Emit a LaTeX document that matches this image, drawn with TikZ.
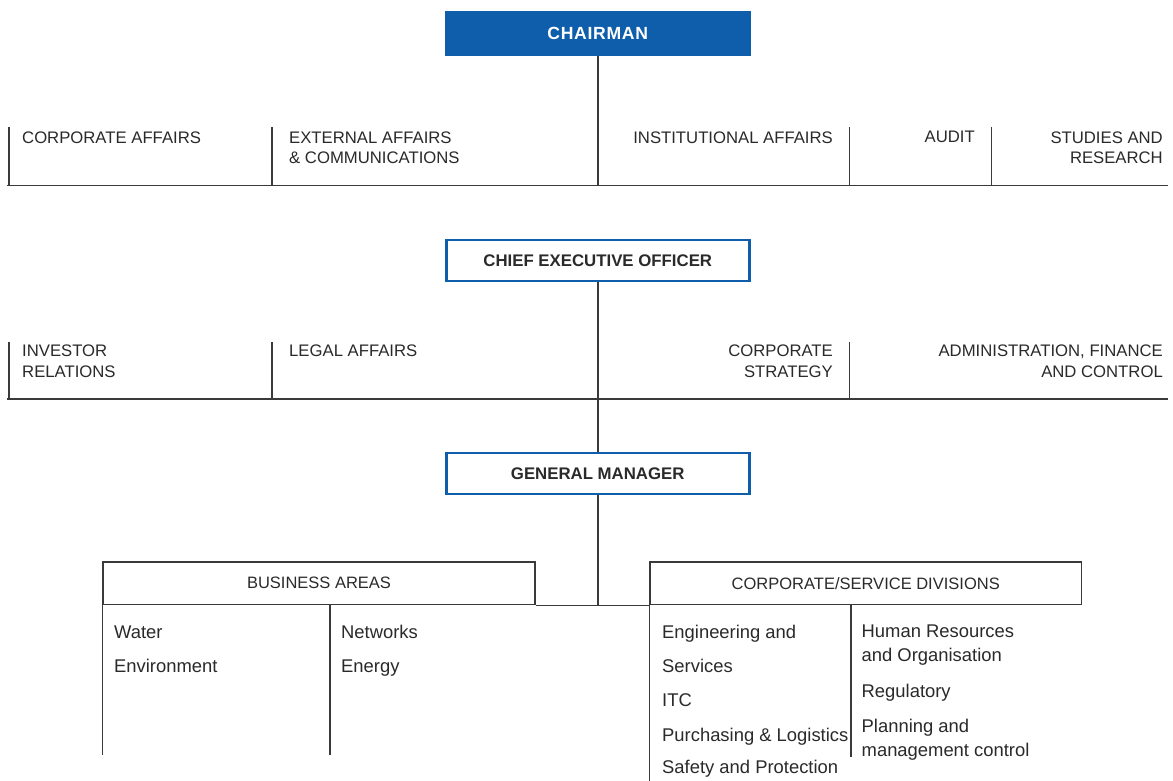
\documentclass[tikz,border=0pt]{standalone}
\usepackage{fontspec}
\setmainfont{Liberation Sans}
\definecolor{orgblue}{HTML}{0F5EAC}
\definecolor{inkgray}{HTML}{2A2A2A}
\definecolor{rulegray}{HTML}{3A3A3A}
\tikzset{
  rule/.style={draw=rulegray, line width=1.2pt},
  headbox/.style={minimum width=305.5pt, minimum height=45pt, inner sep=0pt,
    font=\fontsize{16.8}{20}\selectfont\bfseries},
  chairbox/.style={headbox, fill=orgblue, text=white,
    font=\fontsize{17.6}{20}\selectfont\bfseries\addfontfeature{LetterSpace=4}},
  execbox/.style={headbox, draw=orgblue, line width=2.6pt, fill=white, text=inkgray,
    minimum width=303pt, minimum height=41pt},
  groupbox/.style={rule, fill=white, inner sep=0pt, minimum height=42.5pt, text=inkgray,
    font=\fontsize{16.5}{20.5}\selectfont},
  unitL/.style={anchor=north west, inner sep=0pt, align=left, text=inkgray,
    font=\fontsize{16.7}{20.5}\selectfont},
  unitR/.style={anchor=north east, inner sep=0pt, align=right, text=inkgray,
    font=\fontsize{16.7}{20.5}\selectfont},
  item/.style={anchor=base west, inner sep=0pt, text=inkgray,
    font=\fontsize{18.4}{24}\selectfont},
  itemtwo/.style={anchor=north west, inner sep=0pt, align=left, text=inkgray,
    font=\fontsize{18.4}{24}\selectfont},
}
\begin{document}
\begin{tikzpicture}[x=1pt, y=-1pt]
\useasboundingbox (0,0) rectangle (1173,780);
\fill[white] (0,0) rectangle (1173,780);

% --- top-level boxes -------------------------------------------------
\node[chairbox] (chair) at (597.75,33.5) {CHAIRMAN};
\node[execbox]  (ceo)   at (597.75,260.5) {CHIEF EXECUTIVE OFFICER};
\node[execbox]  (gm)    at (597.75,473.5) {GENERAL MANAGER};

% --- staff functions reporting to the chairman ------------------------
\coordinate (r1L) at (7,185.5);
\coordinate (r1R) at (1168,185.5);
\coordinate (r1T) at (598,185.5);
\draw[rule] (r1L) -- (r1R);
\draw[rule] (chair.south -| r1T) -- (r1T);
\foreach \name/\x in {s1a/9, s1b/272, s1c/849.5, s1d/991.5} {
  \coordinate (\name) at (\x,127);
  \draw[rule] (\name) -- (\name |- r1L);
}
\node[unitL] (corpaff) at (22,131.3) {CORPORATE AFFAIRS};
\node[unitL] (extaff)  at (289,131.3) {EXTERNAL AFFAIRS\\\& COMMUNICATIONS};
\node[unitR] (instaff) at (833,131.3) {INSTITUTIONAL AFFAIRS};
\node[unitR] (audit)   at (975,131.3) {AUDIT};
\node[unitR] (studies) at (1163,131.3) {STUDIES AND\\RESEARCH};

% --- staff functions reporting to the CEO -----------------------------
\coordinate (r2L) at (7,399);
\coordinate (r2R) at (1168,399);
\draw[rule] (r2L) -- (r2R);
\draw[rule] (ceo.south -| r1T) -- (gm.north -| r1T);
\foreach \name/\x in {s2a/9, s2b/272, s2c/849.5} {
  \coordinate (\name) at (\x,342);
  \draw[rule] (\name) -- (\name |- r2L);
}
\node[unitL] (investor) at (22,345) {INVESTOR\\RELATIONS};
\node[unitL] (legal)    at (289,345) {LEGAL AFFAIRS};
\node[unitR] (strategy) at (833,345) {CORPORATE\\STRATEGY};
\node[unitR] (admin)    at (1163,345) {ADMINISTRATION, FINANCE\\AND CONTROL};

% --- operating structure under the general manager --------------------
\node[groupbox, minimum width=432pt]   (business)  at (319,583.25) {BUSINESS AREAS};
\node[groupbox, minimum width=431.5pt] (corporate) at (865.75,583.25) {CORPORATE/SERVICE DIVISIONS};
\draw[rule] (business.south east) -- (corporate.south west);
\draw[rule] (gm.south -| r1T) -- (business.south -| r1T);

% column rules below the two groups
\coordinate (bcol) at (330,604.5);
\coordinate (ccol) at (851,604.5);
\draw[rule] (business.south west) -- ++(0,150);
\draw[rule] (bcol) -- ++(0,150);
\draw[rule] (corporate.south west) -- ++(0,176);
\draw[rule] (ccol) -- ++(0,152.5);

\node[item] (water)    at (114,638)   {Water};
\node[item] (environ)  at (114,672.7) {Environment};
\node[item] (networks) at (341,638)   {Networks};
\node[item] (energy)   at (341,672.7) {Energy};

\node[item] (engin)    at (662,638)   {Engineering and};
\node[item] (services) at (662,672.7) {Services};
\node[item] (itc)      at (662,706.7) {ITC};
\node[item] (purch)    at (662,741.7) {Purchasing \& Logistics};
\node[item] (safety)   at (662,773)   {Safety and Protection};

\node[itemtwo] (hr)        at (861.5,624.9) {Human Resources\\and Organisation};
\node[item]    (regul)     at (861.5,697)   {Regulatory};
\node[itemtwo] (planning)  at (861.5,718.9) {Planning and\\management control};
\end{tikzpicture}
\end{document}
